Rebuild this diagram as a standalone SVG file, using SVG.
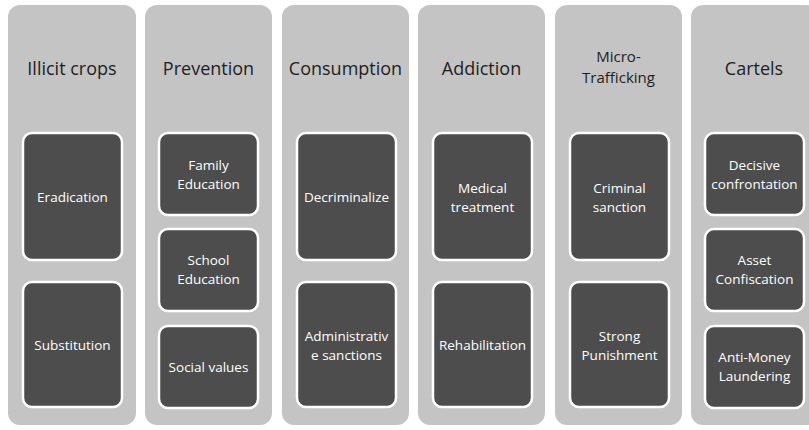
<svg xmlns="http://www.w3.org/2000/svg" width="809" height="430" viewBox="0 0 809 430">
<style>
.col{fill:#c4c4c4}
.box{fill:#4d4d4d;stroke:#ffffff;stroke-width:2.5}
.h{font-family:"Open Sans","Liberation Sans",sans-serif;font-size:18px;fill:#1e1e1e;text-anchor:middle}
.hs{font-size:15px}
.t{font-family:"Open Sans","Liberation Sans",sans-serif;font-size:13.5px;fill:#ffffff;text-anchor:middle}
</style>
<rect width="809" height="430" fill="#ffffff"/>
<g id="col-illicit-crops">
<rect class="col" x="8" y="5" width="128" height="420" rx="12"/>
<text class="h" x="72" y="75">Illicit crops</text>
</g>
<g id="eradication"><rect class="box" x="23" y="133" width="99" height="127" rx="9"/><text class="t" x="72.5" y="202">Eradication</text></g>
<g id="substitution"><rect class="box" x="23" y="282" width="99" height="125" rx="9"/><text class="t" x="72.5" y="350">Substitution</text></g>

<g id="col-prevention">
<rect class="col" x="145" y="5" width="127" height="420" rx="12"/>
<text class="h" x="208.5" y="75">Prevention</text>
</g>
<g id="family-education"><rect class="box" x="159" y="133" width="99" height="82" rx="9"/><text class="t" x="208.5" y="170">Family</text><text class="t" x="208.5" y="189">Education</text></g>
<g id="school-education"><rect class="box" x="159" y="229" width="99" height="82" rx="9"/><text class="t" x="208.5" y="265">School</text><text class="t" x="208.5" y="284">Education</text></g>
<g id="social-values"><rect class="box" x="159" y="326" width="99" height="82" rx="9"/><text class="t" x="208.5" y="372">Social values</text></g>

<g id="col-consumption">
<rect class="col" x="282" y="5" width="127" height="420" rx="12"/>
<text class="h" x="345.5" y="75">Consumption</text>
</g>
<g id="decriminalize"><rect class="box" x="297" y="133" width="99" height="127" rx="9"/><text class="t" x="346.5" y="202">Decriminalize</text></g>
<g id="administrative-sanctions"><rect class="box" x="297" y="282" width="99" height="125" rx="9"/><text class="t" x="346.5" y="341">Administrativ</text><text class="t" x="346.5" y="360">e sanctions</text></g>

<g id="col-addiction">
<rect class="col" x="418" y="5" width="127" height="420" rx="12"/>
<text class="h" x="481.5" y="75">Addiction</text>
</g>
<g id="medical-treatment"><rect class="box" x="433" y="133" width="99" height="127" rx="9"/><text class="t" x="482.5" y="193">Medical</text><text class="t" x="482.5" y="212">treatment</text></g>
<g id="rehabilitation"><rect class="box" x="433" y="282" width="99" height="125" rx="9"/><text class="t" x="482.5" y="350">Rehabilitation</text></g>

<g id="col-micro-trafficking">
<rect class="col" x="555" y="5" width="127" height="420" rx="12"/>
<text class="h hs" x="618.5" y="62">Micro-</text>
<text class="h hs" x="618.5" y="83">Trafficking</text>
</g>
<g id="criminal-sanction"><rect class="box" x="570" y="133" width="99" height="127" rx="9"/><text class="t" x="619.5" y="193">Criminal</text><text class="t" x="619.5" y="212">sanction</text></g>
<g id="strong-punishment"><rect class="box" x="570" y="282" width="99" height="125" rx="9"/><text class="t" x="619.5" y="341">Strong</text><text class="t" x="619.5" y="360">Punishment</text></g>

<g id="col-cartels">
<rect class="col" x="691" y="5" width="127" height="420" rx="12"/>
<text class="h" x="754" y="75">Cartels</text>
</g>
<g id="decisive-confrontation"><rect class="box" x="705" y="133" width="99" height="82" rx="9"/><text class="t" x="754.5" y="170">Decisive</text><text class="t" x="754.5" y="189">confrontation</text></g>
<g id="asset-confiscation"><rect class="box" x="705" y="229" width="99" height="82" rx="9"/><text class="t" x="754.5" y="265">Asset</text><text class="t" x="754.5" y="284">Confiscation</text></g>
<g id="anti-money-laundering"><rect class="box" x="705" y="326" width="99" height="82" rx="9"/><text class="t" x="754.5" y="362">Anti-Money</text><text class="t" x="754.5" y="381">Laundering</text></g>
<g id="connectors"/>
</svg>
